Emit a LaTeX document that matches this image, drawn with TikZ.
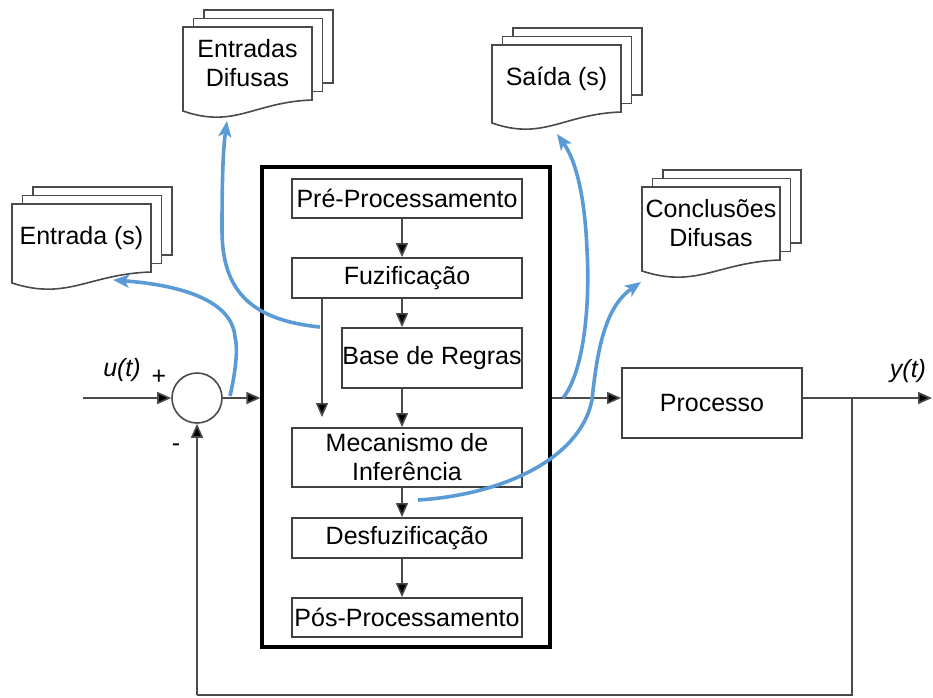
\documentclass[tikz,border=0pt]{standalone}
\usepackage{fontspec}
\setmainfont{Liberation Sans}
\usetikzlibrary{arrows.meta,shapes.geometric}
\definecolor{bluearr}{HTML}{5B9BD5}
\definecolor{linegray}{HTML}{4A4A4A}
\definecolor{boxgray}{HTML}{404040}
\newcommand\docstack[6]{%
 \filldraw[docline] ({#2+21},{#3-17}) rectangle ({#4+21},{#5-17});
 \filldraw[docline] ({#2+10.5},{#3-8.5}) rectangle ({#4+10.5},{#5-8.5});
 \filldraw[docline] (#2,{#5+11}) -- (#2,#3) -- (#4,#3) -- (#4,#5)
   .. controls ({#2+0.55*(#4-#2)},{#5+2}) and ({#2+0.4*(#4-#2)},{#5+29}) .. (#2,{#5+11}) -- cycle;
 \node[doctext] (#1) at ({(#2+#4)/2},{(#3+#5)/2}) {#6};
}
\begin{document}
\begin{tikzpicture}[x=1pt,y=-1pt,
  every node/.style={font=\fontsize{25}{29}\selectfont},
  docline/.style={draw=linegray,line width=1.6pt,fill=white},
  doctext/.style={align=center,inner sep=0pt},
  blk/.style={draw=boxgray,line width=1.8pt,fill=white,inner sep=0pt,align=center},
  arr/.style={draw=linegray,line width=1.6pt,-{Triangle[length=14pt,width=12pt,fill=black]}},
  wire/.style={draw=linegray,line width=1.6pt},
  blue/.style={draw=bluearr,line width=3.6pt,-{Stealth[length=16pt,width=13pt,inset=4pt]}},
  lbl/.style={inner sep=0pt,font=\fontsize{25}{29}\selectfont\itshape}]
\useasboundingbox (0,0) rectangle (933,697);

% documents
\docstack{entrada}{12}{204}{151}{272}{Entrada (s)}
\docstack{entdif}{183}{27}{312}{100}{Entradas\\Difusas}
\docstack{saida}{492}{45}{621}{112}{Saída (s)}
\docstack{concl}{642}{187}{780}{260}{Conclusões\\Difusas}

% big controller box
\node[draw=black,line width=3.2pt,minimum width=288pt,minimum height=480pt,inner sep=0pt] (flc) at (406,407) {};
\node[blk,minimum width=230pt,minimum height=39pt] (pre) at (407,198.5) {Pré-Processamento};
\node[blk,minimum width=230pt,minimum height=40pt] (fuz) at (407,278) {Fuzificação};
\node[blk,minimum width=180pt,minimum height=60pt] (base) at (432,358) {Base de Regras};
\node[blk,minimum width=230pt,minimum height=59pt] (mec) at (407,457.5) {Mecanismo de\\Inferência};
\node[blk,minimum width=230pt,minimum height=40pt] (desf) at (407,538) {Desfuzificação};
\node[blk,minimum width=230pt,minimum height=39pt] (pos) at (407,617.5) {Pós-Processamento};
\node[blk,minimum width=180pt,minimum height=70pt] (proc) at (712,403) {Processo};

\coordinate (ax) at (402,0);
\coordinate (sideEnd) at (322,417);
\draw[arr] (pre.south -| ax) -- (fuz.north -| ax);
\draw[arr] (fuz.south -| ax) -- (base.north -| ax);
\draw[arr] (base.south -| ax) -- (mec.north -| ax);
\draw[arr] (mec.south -| ax) -- (desf.north -| ax);
\draw[arr] (desf.south -| ax) -- (pos.north -| ax);
\draw[arr] (fuz.south -| sideEnd) -- (sideEnd);

% summing junction and loop
\node[draw=linegray,line width=1.6pt,circle,minimum size=50pt,inner sep=0pt] (sum) at (197,398) {};
\coordinate (in) at (83,398);
\coordinate (out) at (932,398);
\coordinate (branch) at (852,398);
\coordinate (fbR) at (852,695);
\coordinate (fbL) at (197,695);
\draw[arr] (in) -- (sum.west);
\draw[arr] (sum.east) -- (flc.west |- sum);
\draw[arr] (flc.east |- sum) -- (proc.west |- sum);
\draw[arr] (proc.east |- sum) -- (out);
\draw[wire] (branch) -- (fbR) -- (fbL);
\draw[arr] (fbL) -- (sum.south);

\node[lbl] (ut) at (122,370) {u(t)};
\node[lbl] (yt) at (908,371) {y(t)};
\node[inner sep=0pt] (plus) at (159,377) {+};
\node[inner sep=0pt] (minus) at (176,448) {-};

% blue arrows
\coordinate (b1s) at (230,396);
\coordinate (b1t) at (113,280);
\coordinate (b2s) at (320,327);
\coordinate (b2t) at (227,121);
\coordinate (b3s) at (563,398);
\coordinate (b3t) at (557,134);
\coordinate (b4s) at (418,500);
\coordinate (b4t) at (641,282);
\draw[blue] (b1s) .. controls (236,370) and (238,348) .. (235,337)
   .. controls (232,300) and (180,285) .. (b1t);
\draw[blue] (b2s) .. controls (250,320) and (222,290) .. (222,230)
   .. controls (222,180) and (223,150) .. (b2t);
\draw[blue] (b3s) .. controls (585,370) and (590,300) .. (587,250)
   .. controls (585,200) and (577,162) .. (b3t);
\draw[blue] (b4s) .. controls (500,495) and (580,460) .. (592,400)
   .. controls (598,340) and (608,305) .. (b4t);
\end{tikzpicture}
\end{document}
